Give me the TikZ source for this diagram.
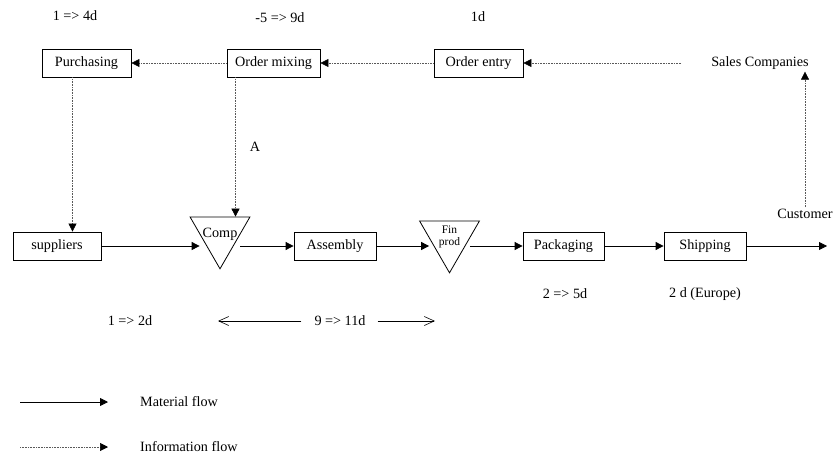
\documentclass[tikz,border=0pt]{standalone}
\usepackage{fontspec}
\setmainfont{Liberation Serif}
\usepackage{tikz}
\usetikzlibrary{shapes,shapes.geometric,arrows.meta,positioning,shadows}
\tikzset{
  box/.style={draw, line width=0.8pt, fill=white, minimum height=28pt, inner sep=2pt, text centered,
    drop shadow={shadow xshift=0.5pt, shadow yshift=-1pt, opacity=0.5}},
  tri_node/.style={regular polygon, regular polygon sides=3, shape border rotate=180, draw,
    line width=0.8pt, minimum size=69pt, inner sep=0pt},
  lbl/.style={inner sep=2pt},
  mat_flow/.style={line width=0.8pt, -{Triangle[length=8pt,width=8pt]}},
  inf_flow/.style={line width=0.6pt, black!65, dash pattern=on 0.8pt off 0.8pt,
    -{Triangle[length=8pt,width=8pt,fill=black,color=black]}},
  span_arr/.style={line width=0.6pt, -{Straight Barb[length=10pt,width=9pt]}}
}

\begin{document}
\begin{tikzpicture}[x=1pt, y=-1pt, font=\fontsize{14.2}{17}\selectfont]
  \useasboundingbox (0,0) rectangle (834,455);
  % information side
  \node[box, minimum width=89pt] (purch) at (86.5,63) {Purchasing};
  \node[box, minimum width=93pt] (mix) at (273.5,63) {Order mixing};
  \node[box, minimum width=89pt] (entry) at (478.5,63) {Order entry};
  \node[lbl] (sales) at (760,63) {Sales Companies};
  \node[lbl] (t_purch) at (75,16) {1 => 4d};
  \node[lbl] (t_mix) at (280,18) {-5 => 9d};
  \node[lbl] (t_entry) at (478,17) {1d};
  \node[lbl] (t_a) at (255,147) {A};
  % material side
  \node[box, minimum width=88pt] (supp) at (57,246) {suppliers};
  \node[tri_node, label={[lbl, yshift=0pt]center:Comp}] (comp) at (220,234.3) {};
  \node[box, minimum width=82pt] (asm) at (335,246) {Assembly};
  \node[tri_node, label={[lbl, yshift=1pt, align=center, font=\fontsize{11.5}{12}\selectfont]center:Fin\\prod}] (fin) at (449.5,238.3) {};
  \node[box, minimum width=81pt] (pack) at (563.5,246) {Packaging};
  \node[box, minimum width=82pt] (ship) at (705,246) {Shipping};
  \node[lbl] (cust) at (805,214) {Customer};
  \coordinate (out) at (827,246);
  \node[lbl] (t_pack) at (565,294) {2 => 5d};
  \node[lbl] (t_ship) at (705,294) {2 d (Europe)};
  \node[lbl] (t_supp) at (130,321) {1 => 2d};
  \node[lbl] (span) at (340,321) {9 => 11d};
  \coordinate (span_l) at (218,321);
  \coordinate (span_r) at (435,321);
  % legend
  \coordinate (mf_a) at (20,402);
  \coordinate (mf_b) at (108,402);
  \node[lbl, anchor=west] (mf_t) at (138,402) {Material flow};
  \coordinate (if_a) at (20,447);
  \coordinate (if_b) at (108,447);
  \node[lbl, anchor=west] (if_t) at (138,447) {Information flow};

  \draw[inf_flow] (mix) -- (purch);
  \draw[inf_flow] (entry) -- (mix);
  \draw[inf_flow, shorten <=28pt] (sales) -- (entry);
  \draw[inf_flow] (cust.north) -- (cust.north |- sales.south);
  \draw[inf_flow] ([xshift=-14pt]purch.south) -- ([xshift=-14pt]purch.south |- supp.north);
  \draw[inf_flow] ([xshift=-38pt]mix.south) -- ([xshift=-38pt]mix.south |- comp.north);

  \draw[mat_flow] (supp) -- (supp -| comp.west);
  \draw[mat_flow] (comp.east |- asm) -- (asm);
  \draw[mat_flow] (asm) -- (asm -| fin.west);
  \draw[mat_flow] (fin.east |- pack) -- (pack);
  \draw[mat_flow] (pack) -- (ship);
  \draw[mat_flow] (ship) -- (out);

  \draw[span_arr, shorten <=11pt] (span) -- (span_l);
  \draw[span_arr, shorten <=10pt] (span) -- (span_r);

  \draw[mat_flow] (mf_a) -- (mf_b);
  \draw[inf_flow] (if_a) -- (if_b);
\end{tikzpicture}
\end{document}
